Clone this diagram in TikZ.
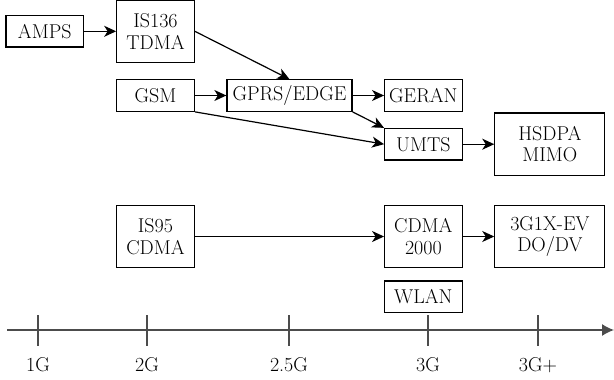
\documentclass[tikz,border=0pt]{standalone}
\usetikzlibrary{positioning,arrows.meta}

\begin{document}
\begin{tikzpicture}[
  x=1pt, y=-1pt,
  node distance=16pt and 31.5pt,
  font=\fontsize{20}{21.5}\selectfont,
  gen/.style={draw, line width=1.2pt, align=center, inner sep=0pt, minimum width=77.5pt, minimum height=31.5pt},
  gentall/.style={gen, minimum height=62.5pt},
  wide/.style={minimum width=110pt},
  link/.style={-{Stealth[length=12pt,width=11pt,inset=3.5pt]}, line width=1.2pt},
  axis/.style={line width=1.3pt, draw=black!70},
]
\useasboundingbox (0,0) rectangle (614,380);
\node[gen] (gsm) at (155.5,95.5) {GSM};
\node[gentall, above=of gsm] (is136) {IS136\\TDMA};
\node[gen, left=32pt of is136] (amps) {AMPS};
\node[gen, minimum width=125pt, right=of gsm] (gprs) {GPRS/EDGE};
\node[gen, right=of gprs] (geran) {GERAN};
\node[gen, below=of geran] (umts) {UMTS};
\node[gentall, wide, right=of umts] (hsdpa) {HSDPA\\MIMO};
\node[gentall] (is95) at (155.5,236.5) {IS95\\CDMA};
\node[gentall] (cdma) at (umts |- is95) {CDMA\\2000};
\node[gentall, wide, right=of cdma] (evdo) {3G1X-EV\\DO/DV};
\node[gen, below=12pt of cdma] (wlan) {WLAN};
\draw[link] (amps) -- (is136);
\draw[link] (is136.east) -- (gprs.north);
\draw[link] (gsm) -- (gprs);
\draw[link] (gsm.south east) -- (umts.west);
\draw[link] (gprs) -- (geran);
\draw[link] (gprs.south east) -- (umts.north west);
\draw[link] (umts) -- (hsdpa);
\draw[link] (is95) -- (cdma);
\draw[link] (cdma) -- (evdo);
% time axis
\coordinate (axstart) at (7,330);
\coordinate (axend) at (614,330);
\draw[axis, -{Latex[length=12pt,width=12pt]}] (axstart) -- (axend);
\foreach \x/\lab/\i in {38/1G/1, 147/2G/2, 289/2.5G/3, 428/3G/4, 538/3G+/5}{
  \draw[axis] (\x,315) -- (\x,346);
  \node (lab\i) at (\x,365) {\lab};
}
\end{tikzpicture}
\end{document}
